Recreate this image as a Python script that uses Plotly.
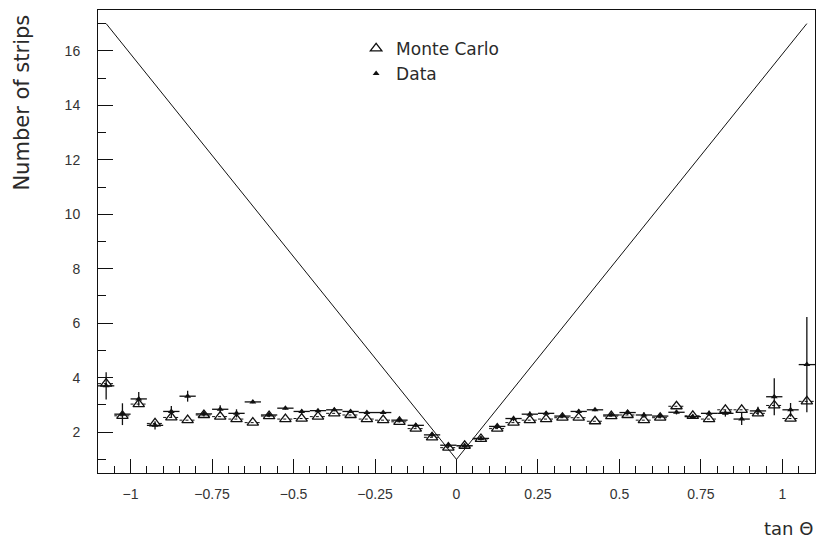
import numpy as np
import plotly.graph_objects as go

# ---- data ----
bin_centers = [round(-1.075 + 0.05 * i, 3) for i in range(44)]
bin_half_width = 0.025

mc_values = [3.78, 2.60, 3.03, 2.32, 2.54, 2.44, 2.63, 2.57, 2.48, 2.35,
             2.59, 2.48, 2.50, 2.57, 2.69, 2.63, 2.48, 2.44, 2.38, 2.13,
             1.81, 1.43, 1.50, 1.75, 2.13, 2.35, 2.44, 2.48, 2.53, 2.53,
             2.40, 2.59, 2.63, 2.44, 2.53, 2.95, 2.60, 2.48, 2.82, 2.82,
             2.69, 2.98, 2.50, 3.13]

data_values = [3.70, 2.66, 3.22, 2.25, 2.76, 3.32, 2.67, 2.84, 2.69, 3.11,
               2.63, 2.88, 2.76, 2.79, 2.82, 2.76, 2.72, 2.72, 2.44, 2.25,
               1.90, 1.52, 1.50, 1.77, 2.21, 2.50, 2.66, 2.69, 2.59, 2.76,
               2.82, 2.63, 2.72, 2.63, 2.59, 2.73, 2.57, 2.69, 2.69, 2.48,
               2.78, 3.30, 2.82, 4.48]

data_errors = [0.50, 0.40, 0.25, 0.15, 0.20, 0.20, 0.10, 0.15, 0.15, 0.05,
               0.08, 0.05, 0.08, 0.05, 0.05, 0.05, 0.05, 0.05, 0.08, 0.08,
               0.08, 0.08, 0.08, 0.08, 0.08, 0.10, 0.10, 0.08, 0.05, 0.08,
               0.05, 0.05, 0.08, 0.10, 0.08, 0.08, 0.08, 0.10, 0.12, 0.22,
               0.15, 0.68, 0.25, 1.75]

limit_x = [-1.075, 0.0, 1.075]
limit_y = [17.0, 1.0, 17.0]

x_range = [-1.1, 1.1]
y_range = [0.5, 17.5]

FONT = "Liberation Sans"
TFONT = "DejaVu Sans"
INK = "#111111"
TXT = "#2a2a2a"

fig = go.Figure()

# geometric limit line
fig.add_trace(go.Scatter(x=limit_x, y=limit_y, mode="lines",
                         line=dict(color=INK, width=1), showlegend=False,
                         hoverinfo="skip"))

# MC dashed horizontal bin bars
seg_x, seg_y = [], []
for xc, yv in zip(bin_centers, mc_values):
    seg_x += [xc - bin_half_width, xc + bin_half_width, None]
    seg_y += [yv, yv, None]
fig.add_trace(go.Scatter(x=seg_x, y=seg_y, mode="lines",
                         line=dict(color=INK, width=1, dash="3px,3px"),
                         showlegend=False, hoverinfo="skip"))

# Data points
fig.add_trace(go.Scatter(
    x=bin_centers, y=data_values, mode="markers", name="Data",
    marker=dict(symbol="triangle-up", size=6, color=INK),
    error_x=dict(type="constant", value=bin_half_width, width=0,
                 color=INK, thickness=1.3),
    error_y=dict(type="data", array=data_errors, width=0,
                 color=INK, thickness=1.3),
))

# Monte Carlo points
fig.add_trace(go.Scatter(
    x=bin_centers, y=mc_values, mode="markers", name="Monte Carlo",
    marker=dict(symbol="triangle-up-open", size=10, color=INK,
                line=dict(width=1.3, color=INK)),
))

fig.update_layout(
    width=818, height=538,
    margin=dict(l=98, r=3, t=10, b=65),
    paper_bgcolor="white", plot_bgcolor="white",
    font=dict(family=FONT, color=INK),
    showlegend=True,
    legend=dict(x=0.36, y=0.955, xanchor="left", yanchor="top",
                traceorder="reversed", bgcolor="rgba(0,0,0,0)",
                font=dict(size=17, family=TFONT, color=TXT),
                itemwidth=30, tracegroupgap=0),
)

fig.update_xaxes(
    range=x_range, showgrid=False, zeroline=False,
    showline=True, linecolor=INK, linewidth=1, mirror=True,
    ticks="inside", ticklen=14, tickwidth=1, tickcolor=INK,
    tick0=0, dtick=0.25,
    minor=dict(ticks="inside", ticklen=7, dtick=0.05, tick0=0,
               tickcolor=INK, tickwidth=1),
    tickfont=dict(size=14, family=FONT, color="#333333"),
    ticklabelstandoff=8,
)

fig.update_yaxes(
    range=y_range, showgrid=False, zeroline=False,
    showline=True, linecolor=INK, linewidth=1, mirror=True,
    ticks="inside", ticklen=15, tickwidth=1, tickcolor=INK,
    tick0=0, dtick=2,
    minor=dict(ticks="inside", ticklen=8, dtick=1, tick0=0,
               tickcolor=INK, tickwidth=1),
    tickfont=dict(size=14, family=FONT, color="#333333"),
    ticklabelstandoff=14,
)

fig.add_annotation(text="Number of strips", xref="paper", yref="paper",
                   x=-0.106, y=0.80, xanchor="center", yanchor="middle",
                   textangle=-90, showarrow=False,
                   font=dict(size=21, family=TFONT, color=TXT))
fig.add_annotation(text="tan Θ", xref="paper", yref="paper",
                   x=1.0, y=-0.119, xanchor="right", yanchor="middle",
                   showarrow=False,
                   font=dict(size=18, family=TFONT, color=TXT))

fig.write_html("out.html")
